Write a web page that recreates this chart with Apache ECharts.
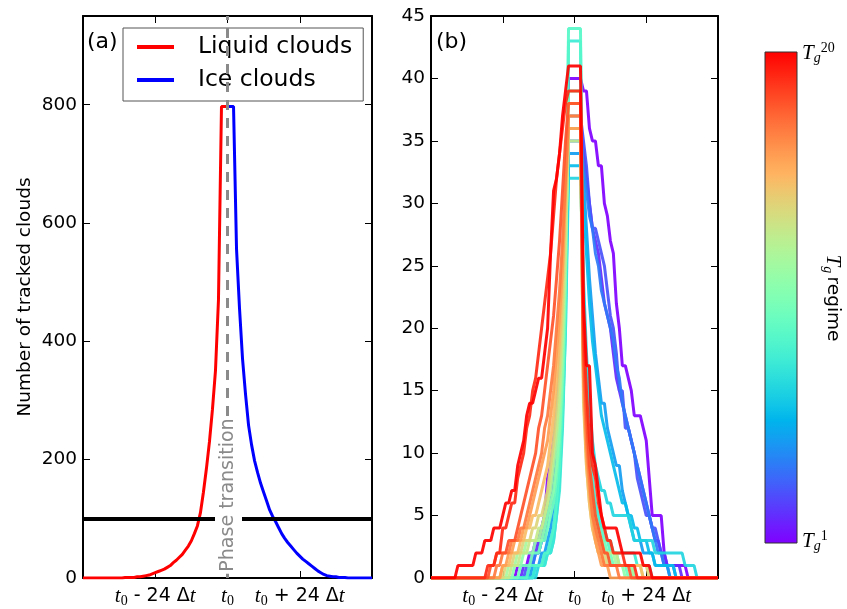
<!DOCTYPE html>
<html>
<head>
<meta charset="utf-8">
<script src="https://cdn.jsdelivr.net/npm/echarts@6/dist/echarts.min.js"></script>
<style>
html, body { margin: 0; padding: 0; background: #fff; }
#main { width: 847px; height: 609px; }
</style>
</head>
<body>
<div id="main"></div>
<script>
// panel (a): tracked clouds, one value per time step
var liquidStart = -48;
var liquidCounts = [0,0,0,0,0,0,0,0,0,0,0,0,0,0, 1,1,1,1,
    2,2,3,4,5,7,9,11,13,15,18,21,26,30,35,40,47,54,63,75,88,110,145,185,230,285,350,470,797,797,797];
var iceStart = 0;
var iceCounts = [797,797,797, 556,455,370,310,258,225,198,178,160,145,130,115,104,95,85,75,67,60,54,48,42,37,32,28,24,20,16,12,9,6,4,3,2,2,1,1,1,
    0,0,0,0,0,0,0,0,0];

// panel (b): one line per T_g regime (1 = coldest ... 20 = warmest)
var regimeStart = [-19,-17,-16,-15,-14,-13,-12,-13,-15,-18,-20,-22,-21,-23,-24,-24,-26,-28,-29,-39];
var regimeCounts = [
    [1,1,1,1,2,2,3,3,4,5,8,9,11,13,17,22,30, 40,40,40,40,40, 39,39,36,35,35,33,33,30,29,27,26,22,20,17,17,16,15,13,13,13,12,11,8,5,5,5,5,2,1,1,1,1,1,1,1,0],
    [1,1,1,2,2,3,4,5,6,8,10,13,16,21,28, 36,36,36,36,36, 34,32,30,28,27,26,24,22,21,20,18,16,15,14,13,12,11,10,9,8,7,6,5,4,3,3,2,2,1,1,1,1,1,0],
    [1,1,1,2,2,3,4,5,7,9,12,15,20,27, 37,37,37,37,37, 35,33,30,28,28,27,26,25,23,21,20,18,15,15,12,12,11,10,8,7,6,5,5,4,4,3,2,1,1,0],
    [1,1,2,2,3,3,5,6,8,11,14,19,26, 35,35,35,35,35, 33,31,29,28,26,25,23,22,21,20,19,17,16,14,13,12,11,10,9,8,7,6,5,4,3,2,2,1,1,1,1,0],
    [1,1,1,2,2,3,4,6,8,11,16,24, 34,34,34,34,34, 32,28,24,21,18,16,14,14,12,11,10,9,9,7,6,5,4,3,3,3,2,2,2,2,1,1,1,1,1,0],
    [1,1,1,2,2,3,4,6,9,14,22, 33,33,33,33,33, 30,26,22,19,17,15,13,12,11,10,9,8,7,6,6,5,5,4,4,3,3,3,2,2,1,1,1,1,1,1,1,0],
    [1,1,1,2,2,3,5,8,13,20, 32,32,32,32,32, 24,18,14,11,9,8,7,7,6,6,5,5,5,5,5,5,4,3,3,3,3,3,3,3,2,2,2,2,2,2,2,2,2,2,1,1,1,1,0],
    [1,1,1,1,2,2,3,5,7,12,20, 43,43,43,43,43, 20,14,10,8,6,5,4,4,3,3,2,2,2,2,2,2,2,2,1,1,1,1,1,0],
    [1,1,1,1,1,2,2,3,4,6,9,14,22, 44,44,44,44,44, 18,12,9,7,5,4,4,3,3,2,2,2,1,1,1,1,1,0],
    [1,1,1,1,2,2,2,3,3,4,5,6,8,11,16,24, 39,39,39,39,39, 20,13,9,6,5,4,3,3,2,2,1,1,1,1,1,0],
    [1,1,1,2,2,2,2,3,3,3,4,5,6,7,9,12,17,25, 38,38,38,38,38, 18,11,8,6,4,3,3,2,2,1,1,1,1,1,0],
    [1,1,1,2,2,2,3,3,3,3,3,4,5,6,7,9,11,14,19,27, 36,36,36,36,36, 17,11,7,5,4,3,3,2,2,2,2,1,1,1,1,1,1,0],
    [1,1,1,2,2,2,3,3,3,4,4,5,6,8,10,12,15,20,27, 35,35,35,35,35, 16,10,7,5,4,3,3,2,2,2,2,2,1,1,1,1,1,1,1,1,0],
    [1,1,1,2,2,2,3,3,3,4,4,5,5,6,7,9,11,14,17,22,29, 37,37,37,37,37, 14,9,6,4,3,2,2,2,1,1,1,1,1,1,1,1,1,1,1,1,1,1,0],
    [1,1,1,2,2,2,3,3,4,4,5,5,6,7,8,9,11,13,16,19,24,31, 38,38,38,38,38, 15,9,6,4,3,2,2,1,1,1,1,1,1,1,1,1,1,1,1,1,0],
    [1,1,2,2,3,3,3,4,4,5,6,7,8,9,10,11,13,15,18,21,25,31, 36,36,36,36,36, 16,10,7,5,3,2,1,1,1,0],
    [1,1,2,2,2,3,3,3,4,4,5,6,7,8,9,10,12,13,15,17,20,23,27,32, 37,37,37,37,37, 17,11,8,5,4,3,2,1,1,1,1,1,0],
    [1,1,2,2,2,2,3,3,3,4,5,6,7,8,9,10,12,13,15,17,19,21,24,27,31,35, 38,38,38,38,38, 18,13,9,7,5,4,3,2,2,1,1,1,1,1,1,1,0],
    [1,1,1,2,2,4,4,5,6,6,8,9,10,12,13,15,16,18,20,22,24,26,29,32,34,36,38, 39,39,39,39,39, 20,15,11,9,8,6,5,4,3,3,2,2,2,2,1,1,1,1,0],
    [1,1,1,1,1,1,2,2,2,3,3,3,4,4,4,5,6,6,7,7,9,10,11,13,14,14,15,16,16,18,20,26,31,32,34,37,39, 41,41,41,41,41, 22,17,17,10,9,7,5,4,4,4,4,4,3,2,2,2,2,2,2,2,1,1,1,0]
];

var xTickSteps = [-24, 0, 24];
var xTickText = ['{it|t}{sub|0} - 24 Δ{it|t}', '{it|t}{sub|0}', '{it|t}{sub|0} + 24 Δ{it|t}'];

var FONT = 'DejaVu Sans';

function rainbow(x) {
    var r = Math.min(1, Math.abs(2 * x - 0.5));
    var g = Math.sin(Math.PI * x);
    var b = Math.cos(Math.PI * x / 2);
    return 'rgb(' + Math.round(r * 255) + ',' + Math.round(g * 255) + ',' + Math.round(Math.max(0, b) * 255) + ')';
}

function pairs(start, counts) {
    var out = [];
    for (var t = -48; t <= 48; t++) {
        var k = t - start;
        out.push([t, (k >= 0 && k < counts.length) ? counts[k] : 0]);
    }
    return out;
}
function pairsPart(start, counts) {
    return counts.map(function (v, k) { return [start + k, v]; });
}

var richTick = {
    it: { fontFamily: 'Liberation Serif', fontStyle: 'italic', fontSize: 21, color: '#000' },
    sub: { fontFamily: 'Liberation Serif', fontSize: 14, color: '#000', padding: [10, 0, 0, 0] }
};

function xAxes(grid, top) {
    return {
        type: 'value', gridIndex: grid, position: top ? 'top' : 'bottom',
        min: -48, max: 48, interval: 24,
        splitLine: { show: false },
        axisLine: { show: true, onZero: false, lineStyle: { color: '#000', width: 2 } },
        axisTick: { show: true, inside: true, length: 7, lineStyle: { color: '#000', width: 1 } },
        axisLabel: {
            show: !top, margin: 6, fontFamily: FONT, fontSize: 19, color: '#000', rich: richTick,
            formatter: function (v) {
                var i = xTickSteps.indexOf(v);
                return i < 0 ? '' : xTickText[i];
            }
        }
    };
}
function yAxes(grid, right, max, interval, name) {
    return {
        type: 'value', gridIndex: grid, position: right ? 'right' : 'left',
        min: 0, max: max, interval: interval,
        name: name || '', nameLocation: 'middle', nameGap: 48,
        nameTextStyle: { fontFamily: FONT, fontSize: 18.5, color: '#000' },
        splitLine: { show: false },
        axisLine: { show: true, onZero: false, lineStyle: { color: '#000', width: 2 } },
        axisTick: { show: true, inside: true, length: 7, lineStyle: { color: '#000', width: 1 } },
        axisLabel: {
            show: !right, margin: 6, fontFamily: FONT, fontSize: 18.5, color: '#000',
            formatter: function (v) { return (v % interval === 0) ? String(v) : ''; }
        }
    };
}

var series = [
    {
        name: 'Liquid clouds', type: 'line', xAxisIndex: 0, yAxisIndex: 0,
        data: pairsPart(liquidStart, liquidCounts), showSymbol: false, symbol: 'none',
        lineStyle: { color: '#ff0000', width: 3 }, itemStyle: { color: '#ff0000' }, z: 2
    },
    {
        name: 'Ice clouds', type: 'line', xAxisIndex: 0, yAxisIndex: 0,
        data: pairsPart(iceStart, iceCounts), showSymbol: false, symbol: 'none',
        lineStyle: { color: '#0000ff', width: 3 }, itemStyle: { color: '#0000ff' }, z: 3,
        markLine: {
            silent: true, symbol: ['none', 'none'], label: { show: false }, animation: false,
            data: [
                { yAxis: 100, lineStyle: { color: '#000', width: 4, type: 'solid' } },
                { xAxis: 0, lineStyle: { color: '#8a8a8a', width: 3, type: [10, 8] } }
            ]
        }
    }
];

regimeCounts.forEach(function (counts, i) {
    var c = rainbow(i / (regimeCounts.length - 1));
    series.push({
        name: 'regime' + (i + 1), type: 'line', xAxisIndex: 2, yAxisIndex: 2,
        showSymbol: false, symbol: 'none',
        data: pairs(regimeStart[i], counts),
        lineStyle: { color: c, width: 3, opacity: 0.92 }, itemStyle: { color: c }, z: 2
    });
});

var barStops = [];
for (var k = 0; k <= 40; k++) {
    barStops.push({ offset: k / 40, color: rainbow(1 - k / 40) });
}

var richT = {
    T: { fontFamily: 'Liberation Serif', fontStyle: 'italic', fontSize: 21, fill: '#000' },
    g: { fontFamily: 'Liberation Serif', fontStyle: 'italic', fontSize: 14, fill: '#000', padding: [10, 0, 0, 0] },
    p: { fontFamily: 'Liberation Serif', fontSize: 14, fill: '#000', padding: [0, 0, 10, 0] },
    r: { fontFamily: FONT, fontSize: 18.5, fill: '#000' }
};

var myChart = echarts.init(document.getElementById('main'), null, { renderer: 'canvas' });
var option = {
    backgroundColor: '#fff',
    animation: false,
    grid: [
        { left: 83, top: 16, width: 289, height: 562 },
        { left: 431, top: 16, width: 287, height: 562 }
    ],
    xAxis: [xAxes(0, false), xAxes(0, true), xAxes(1, false), xAxes(1, true)],
    yAxis: [
        yAxes(0, false, 950, 200, 'Number of tracked clouds'), yAxes(0, true, 950, 200),
        yAxes(1, false, 45, 5), yAxes(1, true, 45, 5)
    ],
    legend: {
        data: ['Liquid clouds', 'Ice clouds'],
        orient: 'vertical', left: 123, top: 28,
        icon: 'rect', itemWidth: 37, itemHeight: 4, itemGap: 7,
        padding: [6, 11, 8, 14],
        borderColor: '#555', borderWidth: 1, borderRadius: 0,
        backgroundColor: 'rgba(255,255,255,0.8)',
        textStyle: { fontFamily: FONT, fontSize: 23.5, color: '#000', lineHeight: 26, padding: [0, 0, 0, 19] },
        selectedMode: false
    },
    graphic: [
        { type: 'text', x: 87, y: 31, z: 100, style: { text: '(a)', font: '22px "DejaVu Sans"', fill: '#000' } },
        { type: 'text', x: 436, y: 31, z: 100, style: { text: '(b)', font: '22px "DejaVu Sans"', fill: '#000' } },
        {
            type: 'text', x: 228.5, y: 495, rotation: Math.PI / 2, z: 100,
            style: {
                text: 'Phase transition', font: '19px "DejaVu Sans"', fill: '#8a8a8a', lineHeight: 21,
                align: 'center', verticalAlign: 'middle', backgroundColor: '#fff', padding: [3, 2]
            }
        },
        {
            type: 'rect', z: 100, shape: { x: 765, y: 52, width: 32, height: 491 },
            style: { fill: new echarts.graphic.LinearGradient(0, 0, 0, 1, barStops), stroke: '#333', lineWidth: 1 }
        },
        { type: 'text', x: 802, y: 41, z: 100, style: { text: '{T|T}{g|g}{p|20}', rich: richT } },
        { type: 'text', x: 802, y: 529, z: 100, style: { text: '{T|T}{g|g}{p|1}', rich: richT } },
        {
            type: 'text', x: 833, y: 298, rotation: -Math.PI / 2, z: 100,
            style: { text: '{T|T}{g|g} {r|regime}', rich: richT, align: 'center', verticalAlign: 'middle' }
        }
    ],
    series: series
};
if (option && typeof option === "object") {
    myChart.setOption(option, true);
}
</script>
</body>
</html>
